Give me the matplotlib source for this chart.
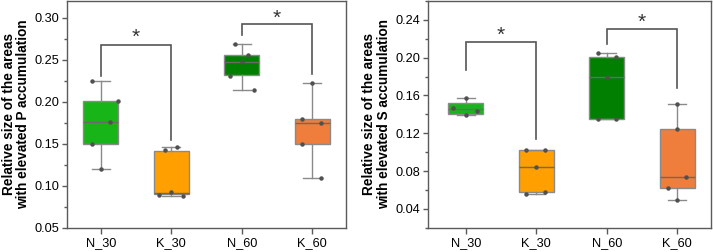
import matplotlib
matplotlib.use("Agg")
import matplotlib.pyplot as plt
from matplotlib.ticker import MultipleLocator, FormatStrFormatter

plt.rcParams['font.family'] = ['Liberation Sans', 'DejaVu Sans']

categories = ['N_30', 'K_30', 'N_60', 'K_60']
box_colors = ['#17B517', '#FF9F00', '#007F00', '#EF7D3B']

# ---- Panel P ----
p_whislo = [0.120, 0.088, 0.2136, 0.1097]
p_q1 = [0.150, 0.0905, 0.2315, 0.1495]
p_med = [0.1758, 0.0915, 0.247, 0.1742]
p_q3 = [0.2005, 0.1415, 0.2554, 0.1798]
p_whishi = [0.2243, 0.146, 0.269, 0.2224]
p_points = [[0.2243, 0.2005, 0.1758, 0.150, 0.120],
            [0.146, 0.142, 0.092, 0.089, 0.088],
            [0.269, 0.2562, 0.247, 0.2303, 0.2136],
            [0.2224, 0.1798, 0.1746, 0.1495, 0.1097]]
p_jitter = [[-0.13, 0.25, 0.13, -0.12, 0.0],
            [0.075, -0.095, 0.0, -0.18, 0.16],
            [-0.095, 0.085, 0.0, -0.165, 0.175],
            [0.0, -0.14, 0.12, -0.14, 0.12]]
# brackets: (left idx, right idx, top, left leg end, right leg end, star y)
p_brackets = [(0, 1, 0.2681, 0.2311, 0.1547, 0.286),
              (2, 3, 0.2928, 0.2790, 0.2331, 0.3088)]

# ---- Panel S ----
s_whislo = [0.139, 0.0555, 0.1352, 0.0488]
s_q1 = [0.1407, 0.0582, 0.1354, 0.0624]
s_med = [0.1456, 0.0839, 0.1793, 0.0733]
s_q3 = [0.152, 0.1018, 0.2011, 0.1246]
s_whishi = [0.157, 0.1022, 0.2053, 0.1505]
s_points = [[0.157, 0.147, 0.144, 0.139],
            [0.1022, 0.1020, 0.0839, 0.0555, 0.0575],
            [0.2053, 0.2011, 0.1793, 0.1350, 0.1352],
            [0.1505, 0.1246, 0.0733, 0.0620, 0.0488]]
s_jitter = [[0.0, -0.185, 0.166, 0.0],
            [-0.14, 0.12, 0.0, -0.14, 0.12],
            [-0.13, 0.125, 0.0, -0.13, 0.125],
            [0.0, 0.0, 0.127, -0.13, 0.0]]
s_brackets = [(0, 1, 0.2168, 0.187, 0.1134, 0.232),
              (2, 3, 0.2302, 0.2144, 0.168, 0.2453)]

fig = plt.figure(figsize=(7.13, 2.52), dpi=100)
ax1 = fig.add_axes([67/713, 24.3/252, 279/713, 226.7/252])
ax2 = fig.add_axes([427.7/713, 24.3/252, 283.3/713, 226.7/252])

spine_c = '#5a5a5a'
edge_c = '#8a8a8a'


def draw(ax, lo, q1, med, q3, hi, pts, jit, brackets, ylim, major, minor, xlim, label):
    stats = []
    for i in range(len(categories)):
        stats.append(dict(whislo=lo[i], q1=q1[i], med=med[i], q3=q3[i], whishi=hi[i], fliers=[]))
    pos = list(range(1, len(categories) + 1))
    bp = ax.bxp(stats, positions=pos, widths=0.5, patch_artist=True, showfliers=False,
                boxprops=dict(edgecolor=edge_c, linewidth=1.0),
                whiskerprops=dict(color=edge_c, linewidth=1.0),
                capprops=dict(color=edge_c, linewidth=1.0),
                medianprops=dict(color='#6a6a6a', linewidth=1.0))
    for patch, c in zip(bp['boxes'], box_colors):
        patch.set_facecolor(c)
    for i, (vals, js) in enumerate(zip(pts, jit)):
        xs = [pos[i] + j for j in js]
        ax.plot(xs, vals, 'o', color='#505050', markersize=2.2, zorder=5)
    for (a, b, top, la, rb, sy) in brackets:
        xa, xb = pos[a], pos[b]
        ax.plot([xa, xa, xb, xb], [la, top, top, rb], color='#555555', linewidth=1.2,
                solid_joinstyle='miter')
        ax.annotate('*', xy=((xa + xb) / 2, sy), xytext=(0, -5.5), textcoords='offset points',
                    ha='center', va='center', fontsize=15, color='#333333')
    ax.set_xlim(*xlim)
    ax.set_ylim(*ylim)
    ax.set_xticks(pos)
    ax.set_xticklabels(categories, fontsize=9.2)
    ax.yaxis.set_major_locator(MultipleLocator(major))
    ax.yaxis.set_minor_locator(MultipleLocator(minor))
    ax.yaxis.set_major_formatter(FormatStrFormatter('%.2f'))
    ax.tick_params(axis='y', which='major', direction='out', length=3.5, width=1,
                   color=spine_c, labelsize=9.2, pad=2)
    ax.tick_params(axis='y', which='minor', direction='out', length=2, width=1, color=spine_c)
    ax.tick_params(axis='x', which='major', direction='out', length=4, width=1,
                   color=spine_c, pad=3)
    ax.tick_params(axis='x', which='minor', bottom=False)
    for s in ax.spines.values():
        s.set_color(spine_c)
        s.set_linewidth(1.0)
    ax.set_ylabel(label, fontsize=9.8, fontweight='bold', linespacing=1.05, labelpad=3)


draw(ax1, p_whislo, p_q1, p_med, p_q3, p_whishi, p_points, p_jitter, p_brackets,
     (0.05, 0.32), 0.05, 0.025, (0.52, 4.48),
     'Relative size of the areas\nwith elevated P accumulation')
draw(ax2, s_whislo, s_q1, s_med, s_q3, s_whishi, s_points, s_jitter, s_brackets,
     (0.02, 0.26), 0.04, 0.02, (0.46, 4.48),
     'Relative size of the areas\nwith elevated S accumulation')

fig.savefig('out.png', dpi=100)
